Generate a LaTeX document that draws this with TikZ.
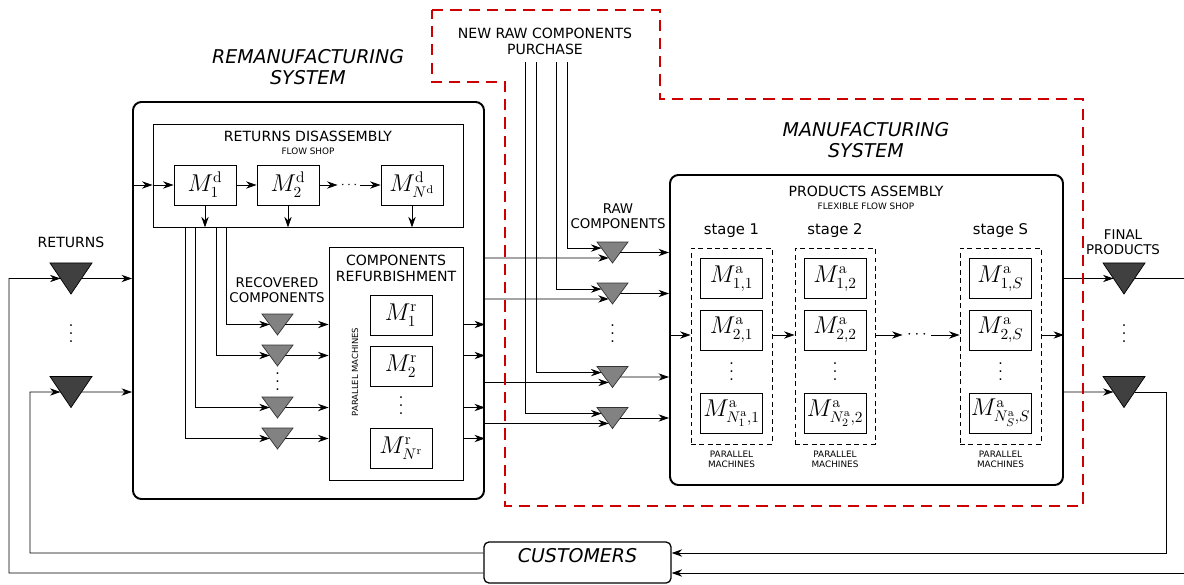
\documentclass[tikz,border=0pt]{standalone}
\usepackage[no-math]{fontspec}
\setmainfont{DejaVu Sans}
\usetikzlibrary{arrows.meta,calc,fit}

\definecolor{sysred}{RGB}{204,0,0}
\definecolor{stockdark}{RGB}{64,64,64}
\definecolor{stockgray}{RGB}{130,130,130}

\newcommand{\ttlfont}{\fontsize{13.5}{14.5}\selectfont\itshape}
\newcommand{\hdfont}{\fontsize{10}{11.3}\selectfont}
\newcommand{\lbfont}{\fontsize{9.5}{10.7}\selectfont}
\newcommand{\smfont}{\fontsize{6.3}{7.2}\selectfont}
\newcommand{\mfont}{\fontsize{16}{18}\selectfont}
\newcommand{\vdotz}{\vbox{\baselineskip=5.7pt\lineskiplimit=0pt\hbox{.}\hbox{.}\hbox{.}}}

\begin{document}
\begin{tikzpicture}[->, >={Stealth[length=7.5pt,width=5.2pt]}, x=0.025cm, y=-0.025cm,
  line width=0.6pt,
  sysbox/.style={draw, rounded corners=6pt, line width=1.4pt, inner sep=0},
  blockbox/.style={draw, inner sep=0},
  stagebox/.style={draw, dash pattern=on 3.5pt off 2.5pt, inner sep=0},
  custbox/.style={draw, rounded corners=3.5pt, line width=0.9pt, inner sep=0, font=\ttlfont},
  mach/.style={draw, minimum width=1.55cm, minimum height=1cm, inner sep=0, font=\mfont},
  stock/.style={minimum width=1.05cm, minimum height=0.775cm, inner sep=0, outer sep=0,
    append after command={\pgfextra{\filldraw[-, fill=stockdark, draw=black, line width=0.5pt]
      (\tikzlastnode.north west) -- (\tikzlastnode.north east) -- (\tikzlastnode.south) -- cycle;}}},
  part/.style={minimum width=0.775cm, minimum height=0.525cm, inner sep=0, outer sep=0,
    append after command={\pgfextra{\filldraw[-, fill=stockgray, draw=black!80, line width=0.5pt]
      (\tikzlastnode.north west) -- (\tikzlastnode.north east) -- (\tikzlastnode.south) -- cycle;}}},
  lbl/.style={align=center, inner sep=0, font=\lbfont},
  dts/.style={inner sep=0, font=\hdfont}]

  \useasboundingbox (0,0) rectangle (1184,585);

  % remanufacturing side
  \node[lbl, font=\ttlfont] (remtitle) at (308,67) {REMANUFACTURING\\SYSTEM};
  \node[sysbox, fit={(133,102) (484,499)}] (reman) {};
  \node[blockbox, fit={(153,124) (463,227)}] (dis) {};
  \node[lbl, font=\hdfont] (distitle) at (308,136) {RETURNS DISASSEMBLY};
  \node[lbl, font=\smfont] (disshop) at (308,151) {FLOW SHOP};
  \node[mach] (md1) at (205,185) {$M^{\mathrm{d}}_1$};
  \node[mach] (md2) at (288,185) {$M^{\mathrm{d}}_2$};
  \node[dts, inner xsep=2pt] (mddots) at (349,185) {$\cdots$};
  \node[mach] (mdn) at (412,185) {$M^{\mathrm{d}}_{N^{\mathrm{d}}}$};

  \node[blockbox, fit={(329,247) (463,480)}] (refurb) {};
  \node[lbl, font=\hdfont] (reftitle) at (396,268) {COMPONENTS\\REFURBISHMENT};
  \node[lbl, font=\fontsize{6}{7}\selectfont, rotate=90] (refpar) at (355,372) {PARALLEL MACHINES};
  \node[mach] (mr1) at (401,315) {$M^{\mathrm{r}}_1$};
  \node[mach] (mr2) at (401,366) {$M^{\mathrm{r}}_2$};
  \node[dts] (mrdots) at (401,406) {\vdotz};
  \node[mach] (mrn) at (401,448) {$M^{\mathrm{r}}_{N^{\mathrm{r}}}$};

  \node[lbl] (reclbl) at (277,290) {RECOVERED\\COMPONENTS};
  \node[part] (rec1) at (277.5,324.5) {};
  \node[part] (rec2) at (277.5,355.5) {};
  \node[dts] (recdots) at (277.5,382) {\vdotz};
  \node[part] (rec3) at (277.5,407.5) {};
  \node[part] (rec4) at (277.5,438.5) {};

  % returns from the market
  \node[lbl, font=\hdfont] (retlbl) at (71,242) {RETURNS};
  \node[stock] (ret1) at (71,278.5) {};
  \node[dts] (retdots) at (71,334) {\vdotz};
  \node[stock] (ret2) at (71,392) {};

  % purchase and raw parts
  \node[lbl, font=\hdfont] (buy) at (545,41) {NEW RAW COMPONENTS\\PURCHASE};
  \coordinate (buyout) at (545,62);
  \node[lbl] (rawlbl) at (618,216) {RAW\\COMPONENTS};
  \node[part] (raw1) at (612.5,252.5) {};
  \node[part] (raw2) at (612.5,293.5) {};
  \node[dts] (rawdots) at (612.5,334) {\vdotz};
  \node[part] (raw3) at (612.5,377) {};
  \node[part] (raw4) at (612.5,418) {};

  % manufacturing side
  \node[lbl, font=\ttlfont] (mantitle) at (866,140) {MANUFACTURING\\SYSTEM};
  \node[sysbox, fit={(670,175) (1063,485)}] (asm) {};
  \node[lbl, font=\hdfont] (asmtitle) at (866,191) {PRODUCTS ASSEMBLY};
  \node[lbl, font=\smfont] (asmshop) at (866,206) {FLEXIBLE FLOW SHOP};

  \node[lbl, font=\fontsize{10.5}{12}\selectfont] (s1lbl) at (731.5,231) {stage 1};
  \node[lbl, font=\fontsize{10.5}{12}\selectfont] (s2lbl) at (835,231) {stage 2};
  \node[lbl, font=\fontsize{10.5}{12}\selectfont] (sSlbl) at (1000.5,231) {stage S};
  \node[stagebox, fit={(691,248) (772,444)}] (st1) {};
  \node[stagebox, fit={(795,248) (875,444)}] (st2) {};
  \node[stagebox, fit={(960,248) (1041,444)}] (stS) {};
  \node[lbl, font=\smfont] (p1lbl) at (731.5,459) {PARALLEL\\MACHINES};
  \node[lbl, font=\smfont] (p2lbl) at (835,459) {PARALLEL\\MACHINES};
  \node[lbl, font=\smfont] (pSlbl) at (1000.5,459) {PARALLEL\\MACHINES};

  \node[mach] (a11) at (731.5,278.5) {$M^{\mathrm{a}}_{1,1}$};
  \node[mach] (a21) at (731.5,330) {$M^{\mathrm{a}}_{2,1}$};
  \node[dts] (v1) at (731.5,372) {\vdotz};
  \node[mach] (an1) at (731.5,413) {$M^{\mathrm{a}}_{N^{\mathrm{a}}_1,1}$};
  \node[mach] (a12) at (835,278.5) {$M^{\mathrm{a}}_{1,2}$};
  \node[mach] (a22) at (835,330) {$M^{\mathrm{a}}_{2,2}$};
  \node[dts] (v2) at (835,372) {\vdotz};
  \node[mach] (an2) at (835,413) {$M^{\mathrm{a}}_{N^{\mathrm{a}}_2,2}$};
  \node[mach] (a1S) at (1000.5,278.5) {$M^{\mathrm{a}}_{1,S}$};
  \node[mach] (a2S) at (1000.5,330) {$M^{\mathrm{a}}_{2,S}$};
  \node[dts] (vS) at (1000.5,372) {\vdotz};
  \node[mach] (anS) at (1000.5,413) {$M^{\mathrm{a}}_{N^{\mathrm{a}}_S,S}$};
  \node[dts, inner xsep=3pt, font=\fontsize{13}{14}\selectfont] (hdots) at (917,335) {$\cdots$};

  \node[lbl] (finlbl) at (1123,242) {FINAL\\PRODUCTS};
  \node[stock] (fin1) at (1124,278.5) {};
  \node[dts] (findots) at (1124,334) {\vdotz};
  \node[stock] (fin2) at (1124,392) {};

  \node[custbox, fit={(484,542) (671,583)}] (cust) {CUSTOMERS};
  \coordinate (outR) at (1184,278.5);
  \coordinate (inR) at (1184,573);

  % disassembly line
  \draw (reman.west |- md1) -- (dis.west |- md1);
  \draw (dis.west |- md1) -- (md1);
  \draw (md1) -- (md2);
  \draw (md2) -- (mddots);
  \draw (mddots) -- (mdn);
  \draw (md1) -- (md1 |- dis.south);
  \draw (md2) -- (md2 |- dis.south);
  \draw (mdn) -- (mdn |- dis.south);

  % recovered parts to refurbishment
  \draw (226,0 |- dis.south) |- ($(rec1.north west)!.5!(rec1.south)$);
  \draw (216,0 |- dis.south) |- ($(rec2.north west)!.5!(rec2.south)$);
  \draw (195,0 |- dis.south) |- ($(rec3.north west)!.5!(rec3.south)$);
  \draw (185,0 |- dis.south) |- ($(rec4.north west)!.5!(rec4.south)$);
  \draw ($(rec1.north east)!.5!(rec1.south)$) -- (refurb.west |- rec1);
  \draw ($(rec2.north east)!.5!(rec2.south)$) -- (refurb.west |- rec2);
  \draw ($(rec3.north east)!.5!(rec3.south)$) -- (refurb.west |- rec3);
  \draw ($(rec4.north east)!.5!(rec4.south)$) -- (refurb.west |- rec4);
  \draw (refurb.east |- rec1) -- (reman.east |- rec1);
  \draw (refurb.east |- rec2) -- (reman.east |- rec2);
  \draw (refurb.east |- rec3) -- (reman.east |- rec3);
  \draw (refurb.east |- rec4) -- (reman.east |- rec4);

  % raw parts: refurbished and purchased
  \draw (reman.east |- 0,258) -- ($(raw1.north west)!.76!(raw1.south)$);
  \draw (reman.east |- 0,299) -- ($(raw2.north west)!.76!(raw2.south)$);
  \draw (reman.east |- 0,382.5) -- ($(raw3.north west)!.76!(raw3.south)$);
  \draw (reman.east |- 0,423.5) -- ($(raw4.north west)!.76!(raw4.south)$);
  \draw (buyout -| 567,0) |- ($(raw1.north west)!.29!(raw1.south)$);
  \draw (buyout -| 556,0) |- ($(raw2.north west)!.29!(raw2.south)$);
  \draw (buyout -| 536,0) |- ($(raw3.north west)!.29!(raw3.south)$);
  \draw (buyout -| 525,0) |- ($(raw4.north west)!.29!(raw4.south)$);
  \draw ($(raw1.north east)!.5!(raw1.south)$) -- (asm.west |- raw1);
  \draw ($(raw2.north east)!.5!(raw2.south)$) -- (asm.west |- raw2);
  \draw ($(raw3.north east)!.5!(raw3.south)$) -- (asm.west |- raw3);
  \draw ($(raw4.north east)!.5!(raw4.south)$) -- (asm.west |- raw4);

  % assembly stages
  \draw (asm.west |- hdots) -- (st1.west |- hdots);
  \draw (st1.east |- hdots) -- (st2.west |- hdots);
  \draw (st2.east |- hdots) -- (hdots);
  \draw (hdots) -- (stS.west |- hdots);
  \draw (stS.east |- hdots) -- (asm.east |- hdots);

  % products out, returns back in
  \draw (asm.east |- fin1) -- ($(fin1.north west)!.5!(fin1.south)$);
  \draw (asm.east |- fin2) -- ($(fin2.north west)!.5!(fin2.south)$);
  \draw[-] ($(fin1.north east)!.5!(fin1.south)$) -- (outR);
  \draw ($(fin2.north east)!.5!(fin2.south)$) -| (1166,553) -- (cust.east |- 0,553);
  \draw (inR) -- (cust.east |- inR);
  \draw (cust.west |- inR) -| (9,278.5) -- ($(ret1.north west)!.5!(ret1.south)$);
  \draw (cust.west |- 0,553) -| (30,392) -- ($(ret2.north west)!.5!(ret2.south)$);
  \draw ($(ret1.north east)!.5!(ret1.south)$) -- (reman.west |- ret1);
  \draw ($(ret2.north east)!.5!(ret2.south)$) -- (reman.west |- ret2);

  % border of the manufacturing system
  \draw[-, sysred, line width=1.4pt, dash pattern=on 8pt off 5pt]
    (432,10) -- (660,10) -- (660,99) -- (1083,99) -- (1083,506)
    -- (505,506) -- (505,82) -- (432,82) -- cycle;

\end{tikzpicture}
\end{document}
